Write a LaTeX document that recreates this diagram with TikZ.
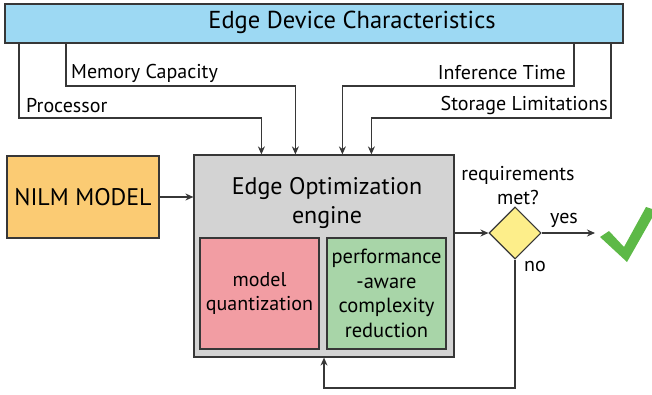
\documentclass[tikz,border=0pt]{standalone}
\usepackage{fontspec}
\setmainfont{PT Sans}
\usetikzlibrary{positioning, calc, shapes.geometric, arrows.meta}
\definecolor{dev-blue}{RGB}{157,217,243}
\definecolor{nilm-orange}{RGB}{251,203,115}
\definecolor{eng-gray}{RGB}{211,211,211}
\definecolor{quant-red}{RGB}{242,157,163}
\definecolor{red-green}{RGB}{168,213,168}
\definecolor{met-yellow}{RGB}{253,238,138}
\definecolor{ok-green}{RGB}{93,185,71}
\definecolor{line-gray}{RGB}{55,55,55}
\tikzset{
  box/.style={draw=line-gray, line width=1.2pt, rectangle, inner sep=0pt},
  arr/.style={draw=line-gray, line width=1.1pt, -{Stealth[length=8pt,width=7pt]}},
  lbl/.style={inner sep=0pt, font=\fontsize{20}{23}\selectfont},
}

\begin{document}
\begin{tikzpicture}[x=1pt, y=-1pt]
\useasboundingbox (0,0) rectangle (652,395);

% device box
\node[box, fill=dev-blue, minimum width=618pt, minimum height=39pt] at (314,23.5) (dev) {};
\node[inner sep=0pt, font=\fontsize{24.5}{28}\selectfont] at (352,22) (devtext) {Edge Device Characteristics};

% engine
\node[box, fill=nilm-orange, minimum width=152pt, minimum height=82pt, font=\fontsize{24}{30}\selectfont] at (83,197) (nilm) {NILM MODEL};
\node[box, fill=eng-gray, minimum width=260pt, minimum height=202pt] at (324,256) (eng) {};
\node[inner sep=0pt, align=center, font=\fontsize{24}{29}\selectfont] at (327,203) (engtext) {Edge Optimization\\engine};
\node[box, fill=quant-red, minimum width=119pt, minimum height=111pt, align=center, font=\fontsize{20}{24}\selectfont] at (259.5,293.5) (quant) {model\\quantization};
\node[box, fill=red-green, minimum width=119pt, minimum height=111pt, align=center, font=\fontsize{20.5}{24.5}\selectfont] at (386.5,293.5) (reduce) {performance\\-aware\\complexity\\reduction};

% decision
\node[draw=line-gray, line width=1.1pt, fill=met-yellow, diamond, aspect=1, minimum width=52pt, minimum height=52pt, inner sep=0pt] at (515,233) (met) {};
\node[inner sep=0pt, align=center, font=\fontsize{20}{24}\selectfont] at (518,186) (mettext) {requirements\\met?};
\node[lbl] at (564,220) (yes) {yes};
\node[lbl] at (535,266) (no) {no};

% labels
\node[lbl, anchor=west] at (71,73) (mem) {Memory Capacity};
\node[lbl, anchor=west] at (26,106) (proc) {Processor};
\node[lbl, anchor=east] at (566,73) (inf) {Inference Time};
\node[lbl, anchor=east] at (608,106) (stor) {Storage Limitations};

% bends
\coordinate (procbend) at (19,118);
\coordinate (membend) at (66,86);
\coordinate (infbend) at (574,86);
\coordinate (storbend) at (611,118);
\coordinate (procin) at ($(eng.north west)+(68,0)$);
\coordinate (memin) at ($(eng.north west)+(102,0)$);
\coordinate (infin) at ($(eng.north west)+(149,0)$);
\coordinate (storin) at ($(eng.north west)+(178,0)$);
\coordinate (fb) at (515,388);
\coordinate (ok) at (595,233);

\draw[arr] (dev.south -| procbend) -- (procbend) -| (procin);
\draw[arr] (dev.south -| membend) -- (membend) -| (memin);
\draw[arr] (dev.south -| infbend) -- (infbend) -| (infin);
\draw[arr] (dev.south -| storbend) -- (storbend) -| (storin);

\draw[arr] (nilm.east) -- (nilm.east -| eng.west);
\draw[arr] (eng.east |- met.west) -- (met.west);
\draw[arr] (met.east) -- (ok);
\draw[arr] (met.south) -- (fb) -| (eng.south);

% check mark
\fill[ok-green] (600,237) -- (609,231) -- (624,247) -- (646,207) -- (652,209) -- (652,218) -- (627,262) -- cycle;
\end{tikzpicture}
\end{document}
